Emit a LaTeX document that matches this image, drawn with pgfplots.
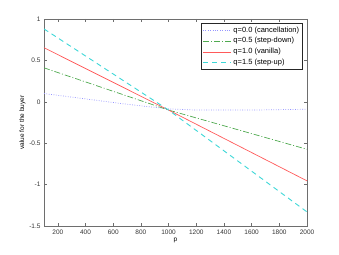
\documentclass[border=0pt]{standalone}
\usepackage{pgfplots}
\pgfplotsset{compat=1.18}
\usepackage{fontspec}
\setmainfont{Liberation Sans}
\definecolor{qblue}{RGB}{150,150,255}
\definecolor{qgreen}{RGB}{80,170,80}
\definecolor{qred}{RGB}{255,90,90}
\definecolor{qcyan}{RGB}{60,215,215}
\definecolor{axgray}{RGB}{110,110,110}
\begin{document}
\begin{tikzpicture}
\begin{axis}[
  scale only axis,
  width=263pt, height=207pt,
  xmin=100, xmax=2000, ymin=-1.5, ymax=1,
  xtick={200,400,...,2000},
  ytick={-1.5,-1,-0.5,0,0.5,1},
  yticklabels={-1.5,-1,-0.5,0,0.5,1},
  xticklabels={200,400,600,800,1000,1200,1400,1600,1800,2000},
  tick align=inside,
  major tick length=3pt,
  tick style={axgray, line width=0.5pt},
  axis line style={axgray, line width=0.9pt},
  ticklabel style={font=\fontsize{6.5}{7}\selectfont, text=black!80},
  /pgf/number format/assume math mode=true,
  xlabel={p}, ylabel={value for the buyer},
  label style={font=\fontsize{6.5}{7}\selectfont},
  xlabel style={yshift=3pt},
  ylabel style={yshift=-3pt},
  legend cell align=left,
  legend style={at={(0.985,0.982)}, anchor=north east, draw=black!85, line width=0.8pt,
    font=\fontsize{7.5}{9}\selectfont, inner sep=1.5pt, row sep=0pt},
  legend image code/.code={\draw[#1] (0pt,0pt) -- (28pt,0pt);},
]
\addplot[qblue, line width=0.7pt, dash pattern=on 0.8pt off 1.6pt] coordinates {
 (100,0.10) (400,0.035) (700,-0.03) (1000,-0.085) (1200,-0.10) (1600,-0.10) (2000,-0.09)};
\addlegendentry{q=0.0 (cancellation)}
\addplot[qgreen, line width=0.7pt, dash pattern=on 6pt off 2pt on 1pt off 2pt] coordinates {
 (100,0.41) (1000,-0.10) (2000,-0.574)};
\addlegendentry{q=0.5 (step-down)}
\addplot[qred, line width=0.7pt] coordinates {
 (100,0.653) (1000,-0.10) (2000,-0.955)};
\addlegendentry{q=1.0 (vanilla)}
\addplot[qcyan, line width=0.9pt, dash pattern=on 5pt off 4pt] coordinates {
 (100,0.88) (1000,-0.10) (2000,-1.33)};
\addlegendentry{q=1.5 (step-up)}
\end{axis}
\path ([shift={(-44pt,-29pt)}]current axis.south west) rectangle ([shift={(32pt,19pt)}]current axis.north east);
\end{tikzpicture}
\end{document}
